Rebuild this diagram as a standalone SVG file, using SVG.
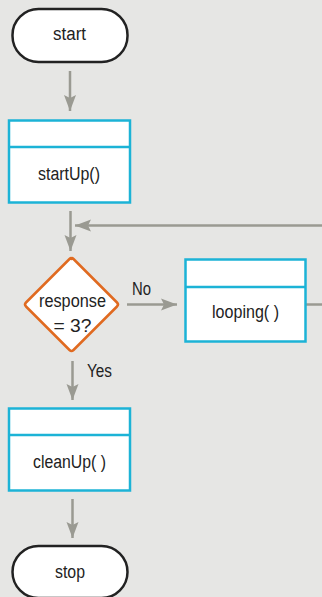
<svg xmlns="http://www.w3.org/2000/svg" width="322" height="597" viewBox="0 0 322 597">
<style>
.term{fill:#fff;stroke:#222;stroke-width:2.5}
.box{fill:#fff;stroke:#1cb3d6;stroke-width:2.5}
.dec{fill:#fff;stroke:#e06a20;stroke-width:2.5;stroke-linejoin:round}
.conn{stroke:#9a9a92;stroke-width:2.5;fill:none}
text{font-family:"Liberation Sans",Arial,sans-serif;font-size:18px;fill:#222;text-anchor:middle}
</style>
<defs>
<marker id="ah" markerUnits="userSpaceOnUse" markerWidth="18" markerHeight="14" refX="16" refY="7" orient="auto">
<path d="M0,1 L16,7 L0,13 L3,7 z" fill="#9a9a92"/>
</marker>
</defs>
<rect width="322" height="597" fill="#e6e6e4"/>
<g id="connectors">
<line class="conn" x1="70" y1="71" x2="70" y2="111" marker-end="url(#ah)"/>
<line class="conn" x1="70.5" y1="211" x2="70.5" y2="251" marker-end="url(#ah)"/>
<line class="conn" x1="322" y1="225.5" x2="75" y2="225.5" marker-end="url(#ah)"/>
<line class="conn" x1="127" y1="304.5" x2="177" y2="304.5" marker-end="url(#ah)"/>
<line class="conn" x1="306" y1="304.5" x2="322" y2="304.5"/>
<line class="conn" x1="72.5" y1="361" x2="72.5" y2="400" marker-end="url(#ah)"/>
<line class="conn" x1="72.5" y1="499" x2="72.5" y2="538" marker-end="url(#ah)"/>
<text x="141.5" y="295" textLength="19" lengthAdjust="spacingAndGlyphs">No</text>
<text x="99.5" y="377" textLength="25" lengthAdjust="spacingAndGlyphs">Yes</text>
</g>
<g id="start">
<rect class="term" x="12.5" y="9" width="115" height="53" rx="26"/>
<text x="69.5" y="40" textLength="33" lengthAdjust="spacingAndGlyphs">start</text>
</g>
<g id="startUp">
<rect class="box" x="9" y="120.5" width="121" height="82"/>
<line class="box" x1="9" y1="147" x2="130" y2="147"/>
<text x="69" y="180" textLength="62" lengthAdjust="spacingAndGlyphs">startUp()</text>
</g>
<g id="decision">
<path class="dec" d="M71.5,259 Q71.5,257 73.5,259 L117,302.5 Q119,304.5 117,306.5 L73.5,350 Q71.5,352 69.5,350 L26,306.5 Q24,304.5 26,302.5 L69.5,259 Q71.5,257 71.5,259 Z"/>
<text x="72.5" y="307" textLength="67" lengthAdjust="spacingAndGlyphs">response</text>
<text x="72.5" y="332" textLength="38" lengthAdjust="spacingAndGlyphs">= 3?</text>
</g>
<g id="looping">
<rect class="box" x="185.5" y="259.5" width="120" height="82"/>
<line class="box" x1="185.5" y1="287" x2="305.5" y2="287"/>
<text x="245.5" y="318" textLength="67" lengthAdjust="spacingAndGlyphs">looping( )</text>
</g>
<g id="cleanUp">
<rect class="box" x="9" y="408.5" width="121" height="82"/>
<line class="box" x1="9" y1="435" x2="130" y2="435"/>
<text x="69.5" y="468" textLength="73" lengthAdjust="spacingAndGlyphs">cleanUp( )</text>
</g>
<g id="stop">
<rect class="term" x="12.5" y="546" width="115" height="52" rx="26"/>
<text x="70" y="578" textLength="30" lengthAdjust="spacingAndGlyphs">stop</text>
</g>
</svg>
